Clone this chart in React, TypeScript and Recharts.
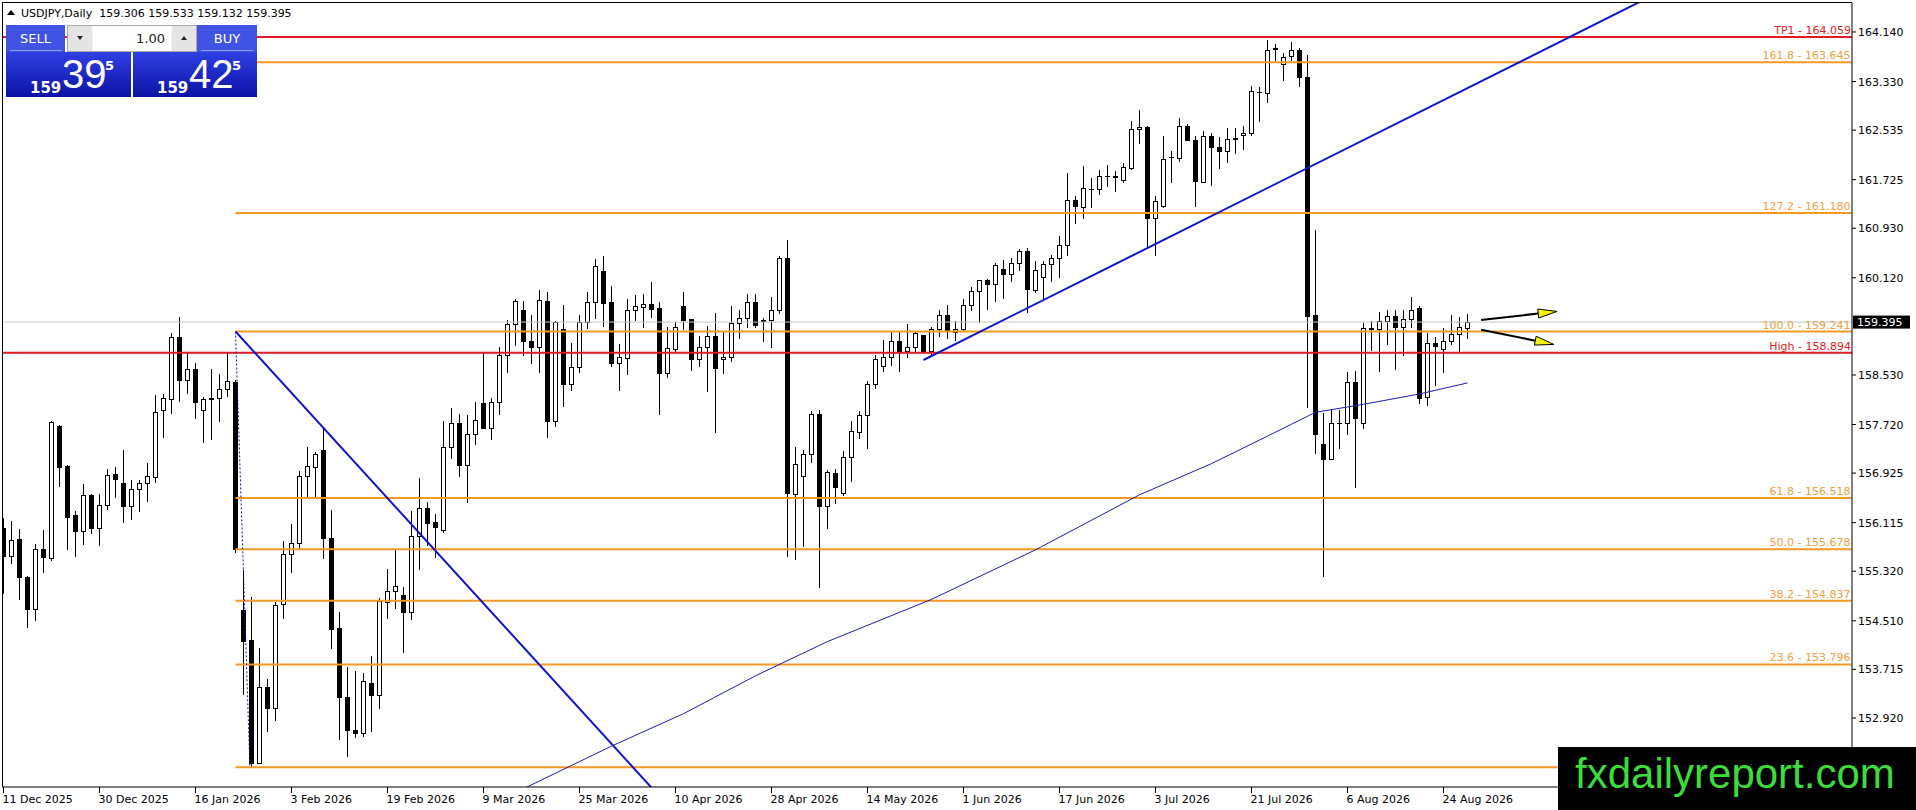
import React from "react";
import { ComposedChart, Bar, Line, XAxis, YAxis, ReferenceLine } from "recharts";

const FONT = "'DejaVu Sans', sans-serif";

// daily candles, bar 0 = 11 Dec 2025
const opens = [
  156.02, 155.57, 155.85, 155.23, 154.71, 155.69, 155.54, 157.69, 157.04, 156.24, 155.98, 156.57, 156.03, 156.41, 156.91,
  156.77, 156.39, 156.66, 156.76, 156.86, 157.95, 158.14, 159.15, 158.45, 158.62, 157.95, 158.14, 158.16, 158.3, 158.41,
  154.69, 154.2, 152.19, 153.42, 153.09, 154.79, 155.61, 155.78, 156.87, 157.03, 157.3, 155.87, 154.39, 153.26, 152.73,
  152.68, 153.5, 153.29, 154.82, 154.99, 154.93, 154.66, 155.9, 156.36, 156.12, 155.99, 157.36, 157.74, 157.05, 157.56, 158.07,
  157.67, 158.08, 158.85, 159.36, 159.59, 159.09, 158.98, 159.74, 157.77, 159.28, 158.39, 158.66, 159.39, 159.72, 160.23,
  159.72, 158.72, 158.81, 159.6, 159.64, 159.69, 159.62, 158.57, 158.96, 159.66, 159.44, 158.79, 158.98, 159.16, 158.79,
  158.82, 159.38, 159.47, 159.72, 159.43, 159.43, 159.6, 160.44, 156.59, 156.87, 157.24, 157.89, 156.38, 156.92, 156.6,
  157.19, 157.6, 157.87, 158.38, 158.68, 158.83, 159.09, 158.93, 158.98, 159.19, 158.93, 159.29, 159.51, 159.24, 159.29,
  159.67, 159.91, 160.08, 160.01, 160.27, 160.18, 160.36, 160.55, 159.92, 160.14, 160.34, 160.44, 160.65, 161.39, 161.27,
  161.57, 161.57, 161.79, 161.79, 161.72, 161.92, 162.55, 162.58, 161.1, 161.3, 162.09, 162.08, 162.6, 162.38, 161.68,
  162.44, 162.26, 162.19, 162.39, 162.45, 162.48, 163.16, 163.15, 163.86, 163.62, 163.75, 163.85, 163.4, 159.51, 157.4,
  157.16, 157.74, 157.75, 158.42, 157.75, 159.3, 159.28, 159.42, 159.49, 159.31, 159.45, 159.62, 158.17, 159.06, 158.96,
  159.09, 159.2, 159.306,
];
const highs = [
  156.19, 156.14, 156.01, 155.25, 155.76, 155.99, 157.77, 157.72, 157.06, 156.31, 156.75, 156.59, 156.58, 157.0, 157.02,
  157.31, 156.81, 156.81, 157.09, 158.2, 158.22, 159.21, 159.48, 158.89, 158.72, 158.17, 158.62, 158.55, 158.89, 158.45,
  155.34, 154.9, 154.06, 153.56, 154.82, 155.81, 156.1, 156.96, 157.35, 157.27, 157.67, 156.32, 154.66, 153.76, 153.69,
  153.65, 153.93, 154.88, 155.35, 155.68, 155.06, 156.3, 156.84, 156.45, 156.25, 157.78, 157.99, 157.89, 157.88, 158.09, 158.894,
  158.15, 158.99, 159.43, 159.77, 159.74, 159.51, 159.92, 159.88, 159.41, 159.67, 159.05, 159.51, 159.88, 160.43, 160.48,
  159.99, 159.03, 159.77, 159.84, 159.86, 160.05, 159.72, 159.31, 159.4, 159.88, 159.44, 159.17, 159.33, 159.54, 159.24,
  159.66, 159.59, 159.85, 159.85, 159.46, 159.8, 160.48, 160.74, 157.35, 157.31, 157.94, 157.96, 156.98, 157.0, 157.29,
  157.78, 157.94, 158.43, 158.85, 159.1, 159.24, 159.24, 159.36, 159.25, 159.19, 159.31, 159.59, 159.67, 159.42, 159.78,
  159.97, 160.09, 160.1, 160.36, 160.41, 160.45, 160.59, 160.61, 160.39, 160.39, 160.5, 160.81, 161.83, 161.46, 161.95,
  161.75, 161.88, 161.96, 161.87, 162.0, 162.68, 162.86, 162.61, 161.45, 162.44, 162.19, 162.74, 162.63, 162.44, 162.52,
  162.48, 162.43, 162.57, 162.57, 162.61, 163.25, 163.24, 164.01, 163.95, 163.79, 163.97, 163.87, 163.76, 160.9, 157.91,
  157.98, 157.95, 158.58, 158.59, 159.38, 159.41, 159.56, 159.59, 159.59, 159.6, 159.8, 159.66, 159.21, 159.15, 159.3,
  159.51, 159.48, 159.533,
];
const lows = [
  154.96, 155.46, 154.86, 154.41, 154.53, 155.3, 155.51, 156.72, 155.68, 155.57, 155.77, 155.94, 155.75, 156.34, 156.54,
  156.13, 156.18, 156.31, 156.47, 156.78, 157.52, 157.91, 158.11, 158.24, 157.83, 157.44, 157.49, 157.77, 158.19, 155.64,
  153.32, 152.11, 152.18, 152.7, 152.89, 154.56, 155.31, 155.69, 156.51, 156.51, 155.53, 154.07, 152.57, 152.29, 152.61,
  152.63, 152.71, 153.09, 154.56, 154.72, 154.0, 154.54, 155.36, 155.75, 155.56, 155.96, 157.17, 156.87, 156.46, 157.4, 157.67,
  157.48, 157.89, 158.58, 159.02, 158.86, 158.73, 158.58, 157.52, 157.7, 158.03, 158.29, 158.58, 159.3, 159.47, 159.33,
  158.67, 158.29, 158.55, 159.43, 159.32, 159.48, 157.89, 158.5, 158.92, 159.29, 158.61, 158.67, 158.27, 157.6, 158.57,
  158.76, 159.13, 159.31, 159.32, 159.09, 158.98, 159.54, 155.57, 155.52, 155.73, 157.1, 155.06, 156.03, 156.44, 156.57,
  156.79, 157.5, 157.34, 158.31, 158.59, 158.7, 158.6, 158.83, 158.93, 158.91, 158.87, 159.17, 159.13, 159.1, 159.27,
  159.59, 159.39, 159.61, 159.74, 159.79, 160.06, 160.25, 159.56, 159.88, 159.77, 160.06, 160.14, 160.49, 161.01, 161.09,
  161.28, 161.49, 161.62, 161.54, 161.69, 161.9, 162.32, 160.64, 160.49, 161.28, 161.68, 162.03, 162.38, 161.29, 161.68,
  161.63, 161.91, 162.01, 162.16, 162.23, 162.45, 162.68, 163.0, 163.68, 163.35, 163.68, 163.25, 158.01, 157.25, 155.25,
  157.16, 157.34, 157.57, 156.7, 157.66, 158.94, 158.59, 159.03, 158.62, 158.86, 159.32, 158.07, 158.04, 158.36, 158.58,
  159.04, 158.93, 159.132,
];
const closes = [
  155.57, 155.83, 155.22, 154.71, 155.69, 155.56, 157.76, 157.03, 156.21, 155.98, 156.56, 156.03, 156.41, 156.9, 156.83,
  156.39, 156.66, 156.76, 156.87, 157.93, 158.15, 159.15, 158.45, 158.62, 158.08, 158.13, 158.15, 158.3, 158.43, 155.69,
  154.18, 152.19, 153.42, 153.09, 154.77, 155.61, 155.78, 156.87, 157.04, 157.23, 155.87, 154.38, 153.26, 152.73, 152.68,
  153.52, 153.29, 154.83, 154.99, 155.08, 154.66, 155.9, 156.36, 156.11, 156.05, 157.36, 157.74, 157.05, 157.56, 157.8, 157.67,
  158.08, 158.85, 159.36, 159.74, 159.08, 158.98, 159.75, 157.77, 159.4, 158.39, 158.66, 159.39, 159.72, 160.32, 159.71,
  158.72, 158.82, 159.59, 159.65, 159.69, 159.61, 158.57, 158.97, 159.31, 159.43, 158.79, 158.98, 159.16, 158.65, 158.82,
  159.38, 159.47, 159.72, 159.35, 159.42, 159.6, 160.44, 156.6, 157.07, 157.23, 157.89, 156.38, 156.94, 156.69, 157.19,
  157.61, 157.87, 158.38, 158.79, 158.83, 159.09, 158.93, 158.98, 159.21, 158.93, 159.29, 159.51, 159.27, 159.28, 159.67,
  159.91, 160.08, 160.02, 160.33, 160.18, 160.36, 160.55, 159.94, 160.24, 160.34, 160.44, 160.65, 161.39, 161.29, 161.58,
  161.57, 161.79, 161.79, 161.76, 161.93, 162.56, 162.58, 161.1, 161.37, 162.07, 162.1, 162.6, 162.38, 161.71, 162.44,
  162.26, 162.19, 162.39, 162.4, 162.49, 163.17, 163.16, 163.85, 163.87, 163.73, 163.85, 163.41, 159.5, 157.57, 157.16,
  157.75, 157.75, 158.42, 157.82, 159.3, 159.28, 159.42, 159.49, 159.31, 159.45, 159.6, 158.16, 159.06, 159.0, 159.09,
  159.2, 159.31, 159.395,
];

// moving average, read at a few bars (joined by straight segments)
const maBars = [64, 76, 85, 94, 103, 116, 129, 142, 151, 158, 164, 170, 177, 183];
const maValues = [151.7, 152.46, 152.99, 153.61, 154.17, 154.86, 155.67, 156.57, 157.08, 157.53, 157.92, 158.05, 158.22, 158.4];

const dateBars = [0, 12, 24, 36, 48, 60, 72, 84, 96, 108, 120, 132, 144, 156, 168, 180];
const dateLabels = [
  "11 Dec 2025", "30 Dec 2025", "16 Jan 2026", "3 Feb 2026", "19 Feb 2026", "9 Mar 2026", "25 Mar 2026", "10 Apr 2026",
  "28 Apr 2026", "14 May 2026", "1 Jun 2026", "17 Jun 2026", "3 Jul 2026", "21 Jul 2026", "6 Aug 2026", "24 Aug 2026",
];

const priceTicks = [164.14, 163.33, 162.535, 161.725, 160.93, 160.12, 158.53, 157.72, 156.925, 156.115, 155.32, 154.51, 153.715, 152.92];

const fibRatios = [0, 23.6, 38.2, 50.0, 61.8, 100.0, 127.2, 161.8];
const fibPrices = [152.114, 153.796, 154.837, 155.678, 156.518, 159.241, 161.18, 163.645];
const fibStartBar = 29;
const levelNames = ["TP1", "High"];
const levelPrices = [164.059, 158.894];
const lastPrice = 159.395;

const downTrend = [[29, 159.241], [84, 151.35]];
const upTrend = [[115, 158.775], [210, 164.99]];
const fibDiagonal = [[29, 159.241], [30.8, 152.114]];
const arrowUp = [[184.7, 159.43], [194.2, 159.57]];
const arrowDown = [[184.7, 159.27], [193.8, 159.03]];

const X_DOMAIN = [-0.1875, 231.0625];
const Y_DOMAIN = [151.791, 164.614];

const n = Math.min(opens.length, highs.length, lows.length, closes.length);
const rows = Array.from({ length: n }, (_, i) => {
  const k = maBars.indexOf(i);
  return {
    i,
    o: opens[i],
    h: highs[i],
    l: lows[i],
    c: closes[i],
    range: [lows[i], highs[i]],
    ma: k >= 0 ? maValues[k] : null,
  };
});

const ORANGE = "#f39a26";
const ORANGE_TEXT = "#f0a03c";
const RED = "#e01b22";

function Candle(props: any) {
  const { x, y, width, height, payload } = props;
  if (payload == null || height == null || isNaN(height)) return null;
  const { o, h, l, c } = payload;
  const k = h === l ? 0 : height / (h - l);
  const py = (p: number) => y + (h - p) * k;
  const cx = Math.floor(x + width / 2) + 0.5;
  const top = Math.round(py(Math.max(o, c)));
  const bot = Math.round(py(Math.min(o, c)));
  const wickTop = Math.round(py(h));
  const wickBot = Math.round(py(l));
  return (
    <g>
      <line x1={cx} x2={cx} y1={wickTop} y2={wickBot + 1} stroke="#000" strokeWidth={1} />
      {bot - top < 1 ? (
        <line x1={cx - 2.5} x2={cx + 2.5} y1={top + 0.5} y2={top + 0.5} stroke="#000" strokeWidth={1} />
      ) : (
        <rect x={cx - 2} y={top + 0.5} width={4} height={bot - top} fill={c >= o ? "#fff" : "#000"} stroke="#000" strokeWidth={1} />
      )}
    </g>
  );
}

function TimeTick(props: any) {
  const { x, y, payload } = props;
  const k = dateBars.indexOf(payload.value);
  return (
    <text x={x - 1} y={y + 8} fontSize={11} fontFamily={FONT} fill="#000" textAnchor="start">
      {k >= 0 ? dateLabels[k] : ""}
    </text>
  );
}

function PriceTick(props: any) {
  const { x, y, payload } = props;
  return (
    <text x={x} y={y + 4} fontSize={11} fontFamily={FONT} fill="#000" textAnchor="start">
      {payload.value.toFixed(3)}
    </text>
  );
}

function LevelLabel(props: any) {
  const { viewBox, text, color } = props;
  if (!viewBox || !text) return null;
  return (
    <text x={viewBox.x + viewBox.width - 1} y={viewBox.y - 3} fontSize={11} fontFamily={FONT} fill={color} textAnchor="end">
      {text}
    </text>
  );
}

function PriceFlag(props: any) {
  const { viewBox } = props;
  if (!viewBox) return null;
  const x = viewBox.x + viewBox.width + 1;
  const y = viewBox.y;
  return (
    <g>
      <rect x={x} y={y - 6.5} width={57} height={13} fill="#000" />
      <text x={x + 4} y={y + 4} fontSize={11} fontFamily={FONT} fill="#fff">
        {lastPrice.toFixed(3)}
      </text>
    </g>
  );
}

function ArrowShape(props: any) {
  const { x1, y1, x2, y2 } = props;
  if ([x1, y1, x2, y2].some((v) => v == null || isNaN(v))) return null;
  const dx = x2 - x1;
  const dy = y2 - y1;
  const len = Math.hypot(dx, dy) || 1;
  const ux = dx / len;
  const uy = dy / len;
  const bx = x2 - ux * 19;
  const by = y2 - uy * 19;
  const nx = -uy * 4.5;
  const ny = ux * 4.5;
  return (
    <g>
      <line x1={x1} y1={y1} x2={bx} y2={by} stroke="#000" strokeWidth={2} />
      <polygon points={`${x2},${y2} ${bx + nx},${by + ny} ${bx - nx},${by - ny}`} fill="#f2f20a" stroke="#000" strokeWidth={1} />
    </g>
  );
}

const seg = (s: number[][]) => [
  { x: s[0][0], y: s[0][1] },
  { x: s[1][0], y: s[1][1] },
];

function PriceBox({ x, w, big, id }: { x: number; w: number; big: string; id: string }) {
  return (
    <g>
      <rect x={x} y={52} width={w} height={45} fill={`url(#${id})`} />
      <text x={x + 24} y={93} fontSize={15} fontWeight="bold" fontFamily={FONT} fill="#fff">159</text>
      <text x={x + 56} y={88} fontSize={40} fontFamily="'Liberation Sans', sans-serif" fill="#fff">{big}</text>
      <text x={x + 99} y={70} fontSize={13} fontWeight="bold" fontFamily={FONT} fill="#fff">5</text>
    </g>
  );
}

export default function App() {
  return (
    <div style={{ position: "relative", width: 1916, height: 810, background: "#fff", overflow: "hidden" }}>
      <style>{`body{margin:0;background:#fff}`}</style>
      <div style={{ position: "absolute", left: 0, top: 0 }}>
        <ComposedChart width={1916} height={810} data={rows} margin={{ top: 3, right: 0, bottom: 0, left: 2 }}>
          <XAxis
            type="number"
            dataKey="i"
            domain={X_DOMAIN}
            allowDataOverflow
            ticks={dateBars}
            interval={0}
            tick={<TimeTick />}
            tickSize={6}
            tickLine={{ stroke: "#000" }}
            axisLine={{ stroke: "#000" }}
            height={23}
          />
          <YAxis
            orientation="right"
            type="number"
            domain={Y_DOMAIN}
            allowDataOverflow
            ticks={priceTicks}
            interval={0}
            tick={<PriceTick />}
            tickSize={4}
            tickLine={{ stroke: "#000" }}
            axisLine={{ stroke: "#000" }}
            width={64}
          />
          <ReferenceLine y={lastPrice} stroke="#c4c4c4" strokeWidth={1} label={<PriceFlag />} />
          {levelPrices.map((p, k) => (
            <ReferenceLine
              key={"lv" + k}
              y={p}
              stroke={RED}
              strokeWidth={2}
              label={<LevelLabel text={`${levelNames[k]} - ${p.toFixed(3)}`} color={RED} />}
            />
          ))}
          {fibPrices.map((p, k) => (
            <ReferenceLine
              key={"fib" + k}
              segment={[
                { x: fibStartBar, y: p },
                { x: 231, y: p },
              ]}
              stroke={ORANGE}
              strokeWidth={2}
              label={<LevelLabel text={fibRatios[k] > 0 ? `${fibRatios[k].toFixed(1)} - ${p.toFixed(3)}` : ""} color={ORANGE_TEXT} />}
            />
          ))}
          <ReferenceLine segment={seg(fibDiagonal)} stroke="#1010c0" strokeWidth={1} strokeDasharray="2 2" ifOverflow="hidden" />
          <ReferenceLine segment={seg(downTrend)} stroke="#1414c8" strokeWidth={2} ifOverflow="hidden" />
          <ReferenceLine segment={seg(upTrend)} stroke="#1414c8" strokeWidth={2} ifOverflow="hidden" />
          <Line
            dataKey="ma"
            type="linear"
            connectNulls
            dot={false}
            activeDot={false}
            stroke="#1c1cb4"
            strokeWidth={1}
            isAnimationActive={false}
          />
          <Bar dataKey="range" barSize={5} shape={<Candle />} isAnimationActive={false} />
          <ReferenceLine segment={seg(arrowUp)} shape={ArrowShape} ifOverflow="hidden" />
          <ReferenceLine segment={seg(arrowDown)} shape={ArrowShape} ifOverflow="hidden" />
        </ComposedChart>
      </div>
      <svg width={1916} height={810} style={{ position: "absolute", left: 0, top: 0, pointerEvents: "none" }}>
        <defs>
          <linearGradient id="pbS" x1="0" y1="0" x2="0" y2="1">
            <stop offset="0%" stopColor="#2f40e2" />
            <stop offset="100%" stopColor="#0c12a6" />
          </linearGradient>
          <linearGradient id="pbB" x1="0" y1="0" x2="0" y2="1">
            <stop offset="0%" stopColor="#2f40e2" />
            <stop offset="100%" stopColor="#0c12a6" />
          </linearGradient>
        </defs>
        {/* chart frame */}
        <line x1={2.5} y1={2.5} x2={2.5} y2={787} stroke="#000" strokeWidth={1} />
        <line x1={2} y1={2.5} x2={1852} y2={2.5} stroke="#000" strokeWidth={1} />
        {/* header */}
        <polygon points="7,15 11,10 15,15" fill="#000" />
        <text x={21} y={17} fontSize={11} fontFamily={FONT} fill="#000" xmlSpace="preserve">
          USDJPY,Daily  159.306 159.533 159.132 159.395
        </text>
        {/* one click trading panel */}
        <rect x={6} y={25} width={59} height={27} fill="#4053e2" />
        <line x1={10} y1={50.5} x2={62} y2={50.5} stroke="#8e9af0" strokeWidth={1} />
        <text x={35.5} y={43} fontSize={13} fontFamily={FONT} fill="#fff" textAnchor="middle">SELL</text>
        <rect x={67.5} y={25.5} width={129} height={26} fill="#f2f2f2" stroke="#a9a9a9" />
        <rect x={68} y={26} width={24} height={25} fill="#e4e4e4" />
        <polygon points="77,36 83,36 80,40" fill="#222" />
        <rect x={93} y={26} width={78} height={25} fill="#fff" />
        <text x={165} y={43} fontSize={13} fontFamily={FONT} fill="#222" textAnchor="end">1.00</text>
        <rect x={172} y={26} width={24} height={25} fill="#e4e4e4" />
        <polygon points="181,40 187,40 184,36" fill="#222" />
        <rect x={197} y={25} width={60} height={27} fill="#4053e2" />
        <line x1={201} y1={50.5} x2={253} y2={50.5} stroke="#8e9af0" strokeWidth={1} />
        <text x={227} y={43} fontSize={13} fontFamily={FONT} fill="#fff" textAnchor="middle">BUY</text>
        <PriceBox x={6} w={125} big="39" id="pbS" />
        <PriceBox x={133} w={124} big="42" id="pbB" />
        {/* watermark */}
        <rect x={1558} y={747} width={358} height={63} fill="#000" />
        <text x={1575} y={788} fontSize={42} fontFamily="'Liberation Sans', Arial, sans-serif" fill="#3ddc3d">
          fxdailyreport.com
        </text>
      </svg>
    </div>
  );
}
